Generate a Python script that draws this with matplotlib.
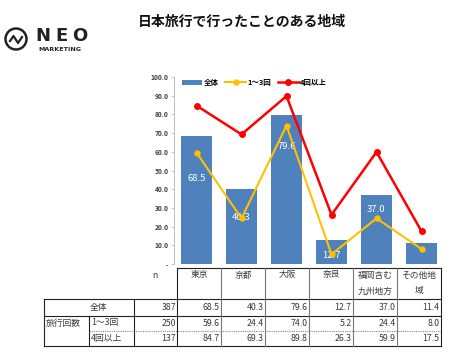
import matplotlib
matplotlib.use("Agg")
import matplotlib.pyplot as plt
from matplotlib.patches import Circle
from matplotlib.lines import Line2D

plt.rcParams['font.family'] = ['Noto Sans CJK JP', 'DejaVu Sans']

TITLE = "日本旅行で行ったことのある地域"
categories = ["東京", "京都", "大阪", "奈良", "福岡含む\n九州地方", "その他地\n域"]
series_names = ["全体", "1～3回", "4回以上"]
total = [68.5, 40.3, 79.6, 12.7, 37.0, 11.4]
once_to_three = [59.6, 24.4, 74.0, 5.2, 24.4, 8.0]
four_plus = [84.7, 69.3, 89.8, 26.3, 59.9, 17.5]
n_values = [387, 250, 137]
group_label = "旅行回数"

# where the white value labels sit inside the bars (None = hidden)
label_pos = [45.5, 24.6, 62.6, 4.8, 28.9, None]

W, H = 459, 356
BLUE = "#4F81BD"
ORANGE = "#FFC000"
RED = "#FF0000"
TXT = "#3A3A3A"


def fx(x):
    return x / W


def fy(y):
    return 1 - y / H


fig = plt.figure(figsize=(W / 100, H / 100), dpi=100)

# ---- title and logo ----
fig.text(fx(242), fy(22), TITLE, ha="center", va="center", fontsize=10,
         fontweight="bold", color="#111111")
fig.patches.append(Circle((0.16, (H - 39) / 100), 0.105, transform=fig.dpi_scale_trans,
                          fill=False, lw=1.8, ec="#222222"))
fig.lines.append(Line2D([fx(10), fx(13.5), fx(18), fx(22)],
                        [fy(41), fy(36), fy(43), fy(37)],
                        transform=fig.transFigure, color="#222222", lw=1.6))
for ch, xc in zip("NEO", [43, 61, 80]):
    fig.text(fx(xc), fy(36), ch, ha="center", va="center", fontsize=13,
             fontweight="bold", color="#222222", family="DejaVu Sans")
fig.text(fx(38), fy(49.5), "MARKETING", ha="left", va="center", fontsize=4.6,
         fontweight="bold", color="#222222", family="DejaVu Sans")

# ---- chart ----
ax = fig.add_axes([fx(174), fy(264), (444 - 174) / W, (264 - 77) / H])
x = list(range(len(categories)))
bars = ax.bar(x, total, width=0.667, color=BLUE, label=series_names[0], zorder=2)
l1, = ax.plot(x, once_to_three, color=ORANGE, lw=1.5, marker="o", ms=3.6,
              label=series_names[1], zorder=4)
l2, = ax.plot(x, four_plus, color=RED, lw=1.8, marker="o", ms=4,
              label=series_names[2], zorder=5)
for xi, v, ly in zip(x, total, label_pos):
    if ly is not None:
        ax.text(xi, ly, f"{v:.1f}", ha="center", va="center", color="white",
                fontsize=6.8, zorder=3)

ax.set_xlim(-0.5, len(categories) - 0.5)
ax.set_ylim(0, 100)
ax.set_xticks([])
yt = list(range(0, 101, 10))
ax.set_yticks(yt)
ax.set_yticklabels(["-" if t == 0 else f"{t:.1f}" for t in yt], fontsize=4.8,
                   fontweight="bold", color="#404040")
ax.tick_params(axis="y", length=2, width=0.6, color="#BFBFBF", pad=2)
for s in ["top", "right", "bottom"]:
    ax.spines[s].set_visible(False)
ax.spines["left"].set_color("#BFBFBF")
ax.spines["left"].set_linewidth(0.7)
ax.patch.set_alpha(0)

ax.legend([bars, l1, l2], series_names, loc="upper left",
          bbox_to_anchor=(0.028, 0.99), ncol=3, frameon=False,
          handlelength=2.75, handleheight=0.75, handletextpad=0.2,
          columnspacing=0.9, borderpad=0, borderaxespad=0,
          prop={"weight": "bold", "size": 5.4})

# ---- data table ----
col_x = [177, 221, 265, 309, 353, 397, 441]
row_y = [268, 299, 315.5, 330.5, 346]
lk = dict(transform=fig.transFigure, color="#222222", lw=0.8)


def hline(x0, x1, y, **kw):
    d = dict(lk)
    d.update(kw)
    fig.lines.append(Line2D([fx(x0), fx(x1)], [fy(y), fy(y)], **d))


def vline(xv, y0, y1, **kw):
    d = dict(lk)
    d.update(kw)
    fig.lines.append(Line2D([fx(xv), fx(xv)], [fy(y0), fy(y1)], **d))


hline(col_x[0], col_x[-1], row_y[0])
hline(44, col_x[-1], row_y[1])
hline(44, col_x[-1], row_y[2])
hline(89, col_x[-1], row_y[3], color="#888888", ls=(0, (1, 1)))
hline(44, col_x[-1], row_y[4])
vline(44, row_y[1], row_y[4])
vline(89, row_y[2], row_y[4])
vline(134, row_y[1], row_y[4])
for i, cx in enumerate(col_x):
    edge = i == 0 or i == len(col_x) - 1
    vline(cx, row_y[0], row_y[4], color="#222222" if edge else "#777777")

fs = 6.3
fig.text(fx(155), fy(275), "n", ha="center", va="center", fontsize=fs, color=TXT)
for i, cat in enumerate(categories):
    cx = (col_x[i] + col_x[i + 1]) / 2
    for j, line in enumerate(cat.split("\n")):
        fig.text(fx(cx), fy(275 + 16 * j), line, ha="center", va="center",
                 fontsize=fs, color=TXT)

row_cy = [307.5, 323, 338.5]
fig.text(fx(98), fy(row_cy[0]), series_names[0], ha="center", va="center",
         fontsize=fs, color=TXT)
fig.text(fx(46), fy(row_cy[1]), group_label, ha="left", va="center",
         fontsize=fs, color=TXT)
fig.text(fx(91), fy(row_cy[1]), series_names[1], ha="left", va="center",
         fontsize=fs, color=TXT)
fig.text(fx(91), fy(row_cy[2]), series_names[2], ha="left", va="center",
         fontsize=fs, color=TXT)

for r, (nv, vals) in enumerate(zip(n_values, [total, once_to_three, four_plus])):
    fig.text(fx(176), fy(row_cy[r]), str(nv), ha="right", va="center",
             fontsize=fs, color=TXT)
    for i, v in enumerate(vals):
        fig.text(fx(col_x[i + 1] - 1.5), fy(row_cy[r]), f"{v:.1f}", ha="right",
                 va="center", fontsize=fs, color=TXT)

fig.savefig("out.png", dpi=100)
